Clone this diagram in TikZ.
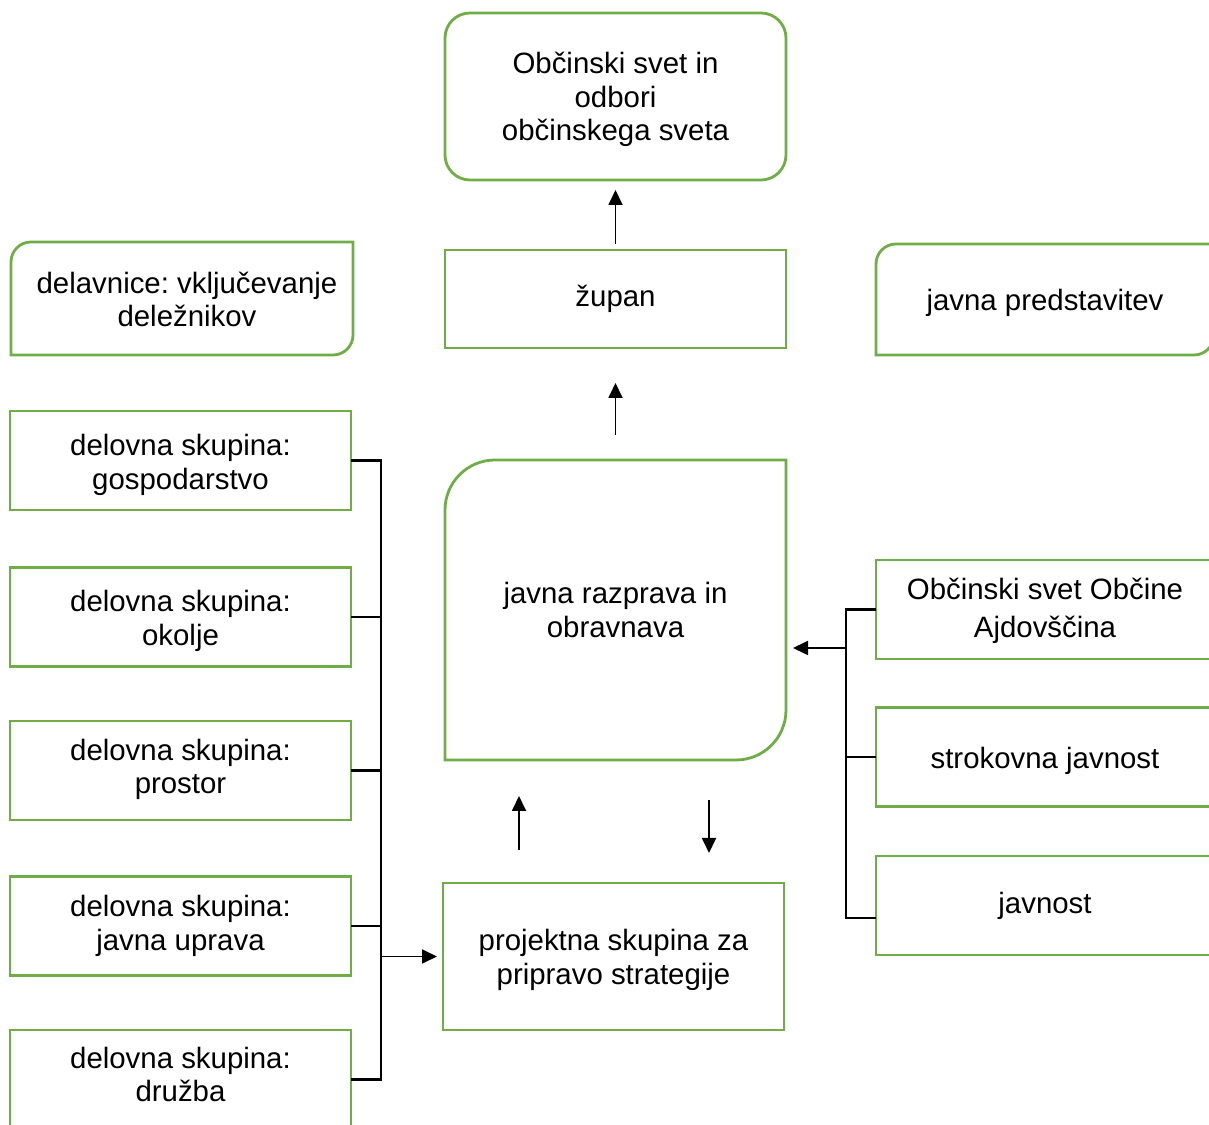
\documentclass[tikz,border=0pt]{standalone}
\usepackage{fontspec}
\setmainfont{Liberation Sans}
\usetikzlibrary{arrows.meta}
\definecolor{gr}{HTML}{70AD47}
\frenchspacing
\newcommand\dfs{\fontsize{29.4}{33.6}\selectfont\frenchspacing}
\newcommand\dfsw{\fontsize{29.4}{38}\selectfont\frenchspacing}
\newcommand\tup[1]{\rule{0pt}{#1}}
\newcommand\tdp[1]{\rule[-#1]{0pt}{#1}}
\begin{document}
\begin{tikzpicture}[x=1pt,y=1pt,
 box/.style={draw=gr, line width=2.8pt, inner sep=0pt, outer sep=0pt, align=center, font=\dfs, text=black},
 obox/.style={box, draw=none},
 lbox/.style={box, minimum width=341pt, minimum height=99pt},
 rbox/.style={box, minimum width=338pt, minimum height=99pt},
 gline/.style={draw=gr, line width=2.8pt},
 arr/.style={draw=black, line width=1.8pt, -{Triangle[length=15pt,width=14pt]}},
 bline/.style={draw=black, line width=2.2pt}]
\clip (0,0) rectangle (1209,1124);
\fill[white] (0,0) rectangle (1209,1124);

\node[box, rounded corners=25pt, minimum width=341pt, minimum height=167pt] (obc) at (615.5,1027.5) {\tup{27.6pt}Občinski svet in\\odbori\\občinskega sveta};
\node[box, minimum width=341pt, minimum height=98pt] (zupan) at (615.5,825) {župan};
\node[obox, minimum width=342pt, minimum height=113pt] (delav) at (182,825.5) {};
\node[obox] (delavT) at (187,824.5) {delavnice: vključevanje\\deležnikov};
\node[obox, minimum width=338pt, minimum height=111pt] (pred) at (1045,824.5) {\tup{27.5pt}javna predstavitev};
\node[obox, minimum width=341pt, minimum height=300pt] (razp) at (615.5,514) {javna razprava in\\obravnava};
\node[box, minimum width=341pt, minimum height=147pt] (proj) at (613.5,167.5) {\tup{28.6pt}projektna skupina za\\pripravo strategije};

\node[lbox] (g1) at (180.5,663.5) {\tup{29.6pt}delovna skupina:\\gospodarstvo};
\node[lbox] (g2) at (180.5,507) {\tup{29.6pt}delovna skupina:\\okolje};
\node[lbox] (g3) at (180.5,353.5) {delovna skupina:\\prostor\tdp{8pt}};
\node[lbox] (g4) at (180.5,198) {delovna skupina:\\javna uprava};
\node[lbox] (g5) at (180.5,44.5) {delovna skupina:\\družba\tdp{10pt}};

\node[rbox, font=\dfsw] (r1) at (1045,514.5) {\tup{24.6pt}Občinski svet Občine\\Ajdovščina};
\node[rbox] (r2) at (1045,367) {\tup{29.5pt}strokovna javnost};
\node[rbox] (r3) at (1045,218.5) {javnost};

\draw[gline] (delav.south west) -- ([yshift=-20pt]delav.north west) arc[start angle=180,end angle=90,radius=20pt] -- (delav.north east) -- ([yshift=20pt]delav.south east) arc[start angle=0,end angle=-90,radius=20pt] -- cycle;
\draw[gline] (pred.south west) -- ([yshift=-20pt]pred.north west) arc[start angle=180,end angle=90,radius=20pt] -- (pred.north east) -- ([yshift=20pt]pred.south east) arc[start angle=0,end angle=-90,radius=20pt] -- cycle;
\draw[gline] (razp.south west) -- ([yshift=-50pt]razp.north west) arc[start angle=180,end angle=90,radius=50pt] -- (razp.north east) -- ([yshift=50pt]razp.south east) arc[start angle=0,end angle=-90,radius=50pt] -- cycle;

\draw[arr, shorten <=6pt, shorten >=10pt] (zupan.north) -- (obc.south);
\draw[arr, shorten <=25pt, shorten >=35pt] (razp.north) -- (zupan.south);
\coordinate (cu) at (519,0);
\coordinate (cd) at (709,0);
\draw[arr, shorten <=33pt, shorten >=36pt] (proj.north -| cu) -- (razp.south -| cu);
\draw[arr, shorten <=40pt, shorten >=30pt] (razp.south -| cd) -- (proj.north -| cd);

\coordinate (lb) at (381,0);
\draw[bline] (g1.east) -- (g1.east -| lb) -- (g5.east -| lb) -- (g5.east);
\foreach \n in {g2,g3,g4} \draw[bline] (\n.east) -- (\n.east -| lb);
\draw[arr, shorten >=6pt] (proj.west -| lb) -- (proj.west);

\coordinate (rb) at (846,0);
\coordinate (r3t) at ([yshift=-12.5pt]r3.west);
\draw[bline] (r1.west) -- (r1.west -| rb) -- (r3t -| rb) -- (r3t);
\draw[bline] (r2.west) -- (r2.west -| rb);
\coordinate (ra) at ([yshift=-38pt]razp.east);
\draw[arr, shorten >=7pt] (ra -| rb) -- (ra);
\end{tikzpicture}
\end{document}
